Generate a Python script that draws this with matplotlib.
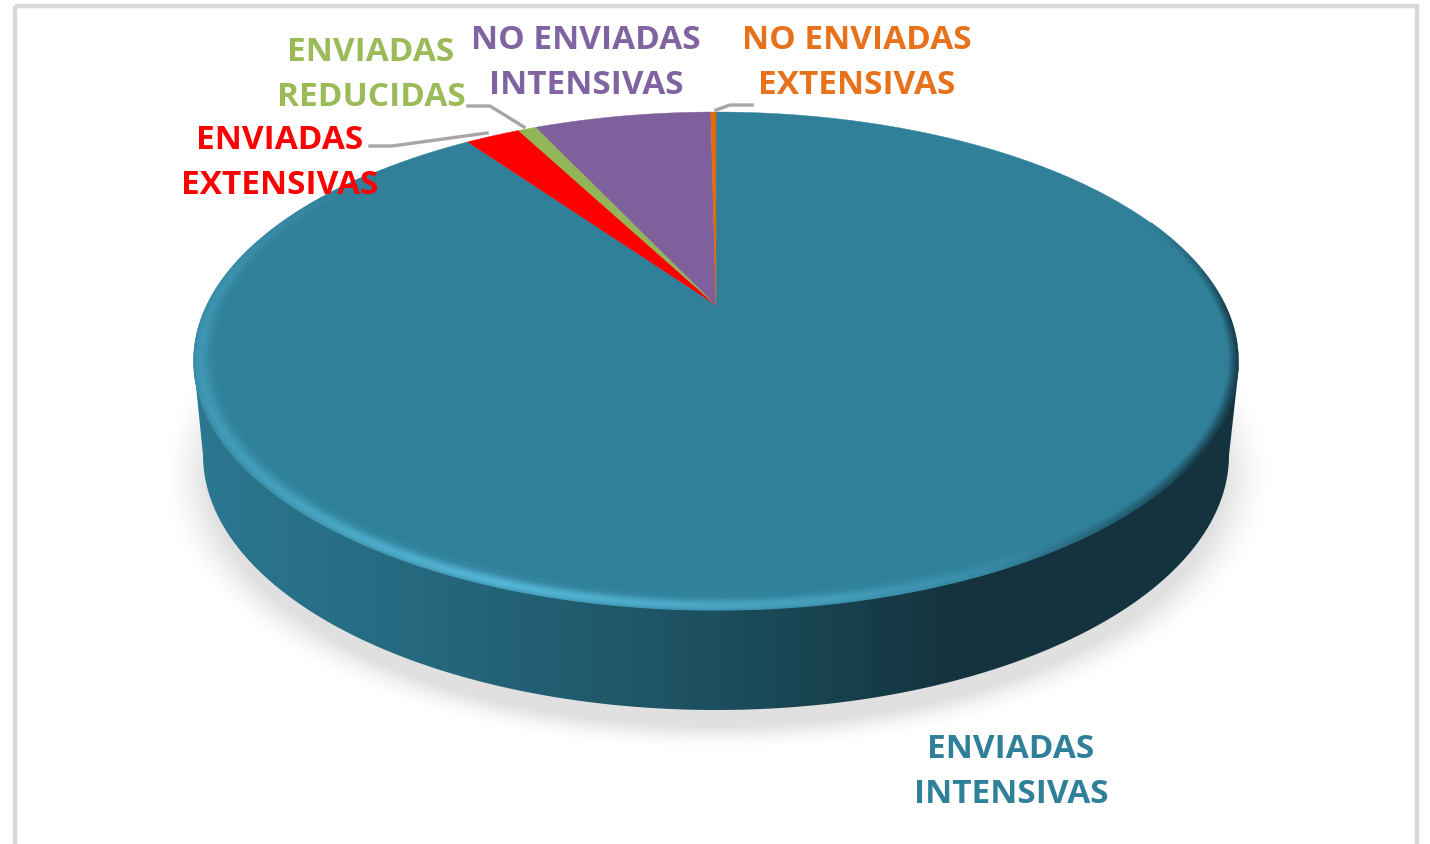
import numpy as np
import matplotlib
matplotlib.use('Agg')
import matplotlib.pyplot as plt
from matplotlib.collections import LineCollection
from matplotlib.colors import LinearSegmentedColormap, to_rgb
from matplotlib.patches import Polygon, Rectangle

labels = ['ENVIADAS\nINTENSIVAS', 'ENVIADAS\nEXTENSIVAS', 'ENVIADAS\nREDUCIDAS',
          'NO ENVIADAS\nINTENSIVAS', 'NO ENVIADAS\nEXTENSIVAS']
values = [90.2, 2.1, 0.7, 6.8, 0.2]
colors = ['#30809a', '#ff0000', '#92b558', '#7e619c', '#e36c0a']
label_colors = ['#30809a', '#ff0000', '#9bbb59', '#8064a2', '#e8721c']
label_pos = [(1011, 772), (280, 163), (371, 75), (586, 63), (857, 63)]
leaders = [
    [(370, 146), (392, 146), (487, 133)],
    [(468, 106), (490, 106), (524, 127)],
    [(716, 110), (730, 105), (752, 105)],
]

plt.rcParams['font.family'] = ['Open Sans', 'DejaVu Sans']

# perspective of the pie top: unit circle to pixels
K = 0.2249
def project(x, y):
    return 716 + 509 * x / (1 + K * y), (305 - 167.8 * y) / (1 + K * y)

fig = plt.figure(figsize=(14.3, 8.44), dpi=100)
ax = fig.add_axes([0, 0, 1, 1])

# shadow under the pie
gx, gy = np.meshgrid(np.arange(150, 1290), np.arange(380, 780))
dist = np.hypot((gx - 716) / 530, (gy - 475) / 262)
alpha = np.clip((1.0 - dist) / 0.09 + 0.5, 0, 1) ** 1.5
shadow = np.zeros(gx.shape + (4,))
shadow[..., :3] = 0.88
shadow[..., 3] = alpha
ax.imshow(shadow, extent=(150, 1290, 780, 380), aspect='auto', zorder=1)

# side wall, horizontal gradient; its upper edge is hidden by the top face
t = np.radians(np.linspace(180, 360, 200))
bot_x = 716 + 513 * np.cos(t)
bot_y = 455 - 255 * np.sin(t)
wall_pts = np.vstack([[(194, 366)], np.column_stack([bot_x, bot_y]), [(1239, 366)]])
wall_cmap = LinearSegmentedColormap.from_list('wall', [
    (0.0, '#2b7890'), (0.22, '#26687e'), (0.5, '#1c4f5f'),
    (0.72, '#14343f'), (1.0, '#14333f')])
wall = ax.imshow(np.linspace(0, 1, 400).reshape(1, -1), cmap=wall_cmap, vmin=0, vmax=1,
                 extent=(194, 1239, 720, 360), aspect='auto', zorder=2)
wall.set_clip_path(Polygon(wall_pts, closed=True, transform=ax.transData))

# slices, clockwise from 12 o'clock
edges = np.cumsum([0] + values) / sum(values) * 2 * np.pi
for i in range(len(values)):
    a = np.linspace(edges[i], edges[i + 1], max(3, int(values[i] * 8)))
    px, py = project(np.sin(a), np.cos(a))
    ax.fill(np.r_[716, px], np.r_[305, py], color=colors[i], lw=0.3, zorder=3)

# bevel on the rim: light on the left and front, dark on the right
phi = np.radians(np.linspace(0, 360, 721))
deg = np.degrees(phi)
light = np.interp(deg, [0, 140, 175, 220, 250, 280, 305, 360], [0, 0, .35, .55, 1, .55, 0, 0])
dark = np.interp(deg, [0, 22, 295, 325, 360], [.8, 0, 0, .9, .9])
base = np.array(to_rgb(colors[0]))
hi = np.array(to_rgb('#55b6d6'))
lo = np.array(to_rgb('#14333f'))
depths = np.linspace(0.002, 0.04, 17)
for d in depths:
    u = (d - 0.002) / 0.038
    p_light = np.exp(-((u - 0.32) / 0.42) ** 2)
    p_dark = np.clip(1 - u / 0.5, 0, 1)
    c = base + np.outer(light * p_light, hi - base)
    c = c + np.outer(dark * p_dark, lo - base)
    bx, by = project((1 - d) * np.cos(phi), (1 - d) * np.sin(phi))
    pts = np.column_stack([bx, by])
    segs = np.stack([pts[:-1], pts[1:]], axis=1)
    # only the front half carries the bevel
    keep = (deg[:-1] > 140) | (deg[:-1] < 22)
    ax.add_collection(LineCollection(segs[keep], colors=np.clip(c[:-1][keep], 0, 1), lw=2.0, zorder=4))

# leader lines
for line in leaders:
    xs, ys = zip(*line)
    ax.plot(xs, ys, color='#a6a6a6', lw=2.4, zorder=5)

for name, col, (lx, ly) in zip(labels, label_colors, label_pos):
    ax.text(lx, ly, name, color=col, fontsize=24, fontweight='bold', ha='center', va='center',
            linespacing=1.5, zorder=6)

# chart frame, cut off at the bottom of the picture
ax.add_patch(Rectangle((15, 5.5), 1402, 860, fill=False, ec='#d9d9d9', lw=3.2, zorder=7))

ax.set_xlim(0, 1430)
ax.set_ylim(844, 0)
ax.axis('off')
fig.savefig('out.png', dpi=100)
